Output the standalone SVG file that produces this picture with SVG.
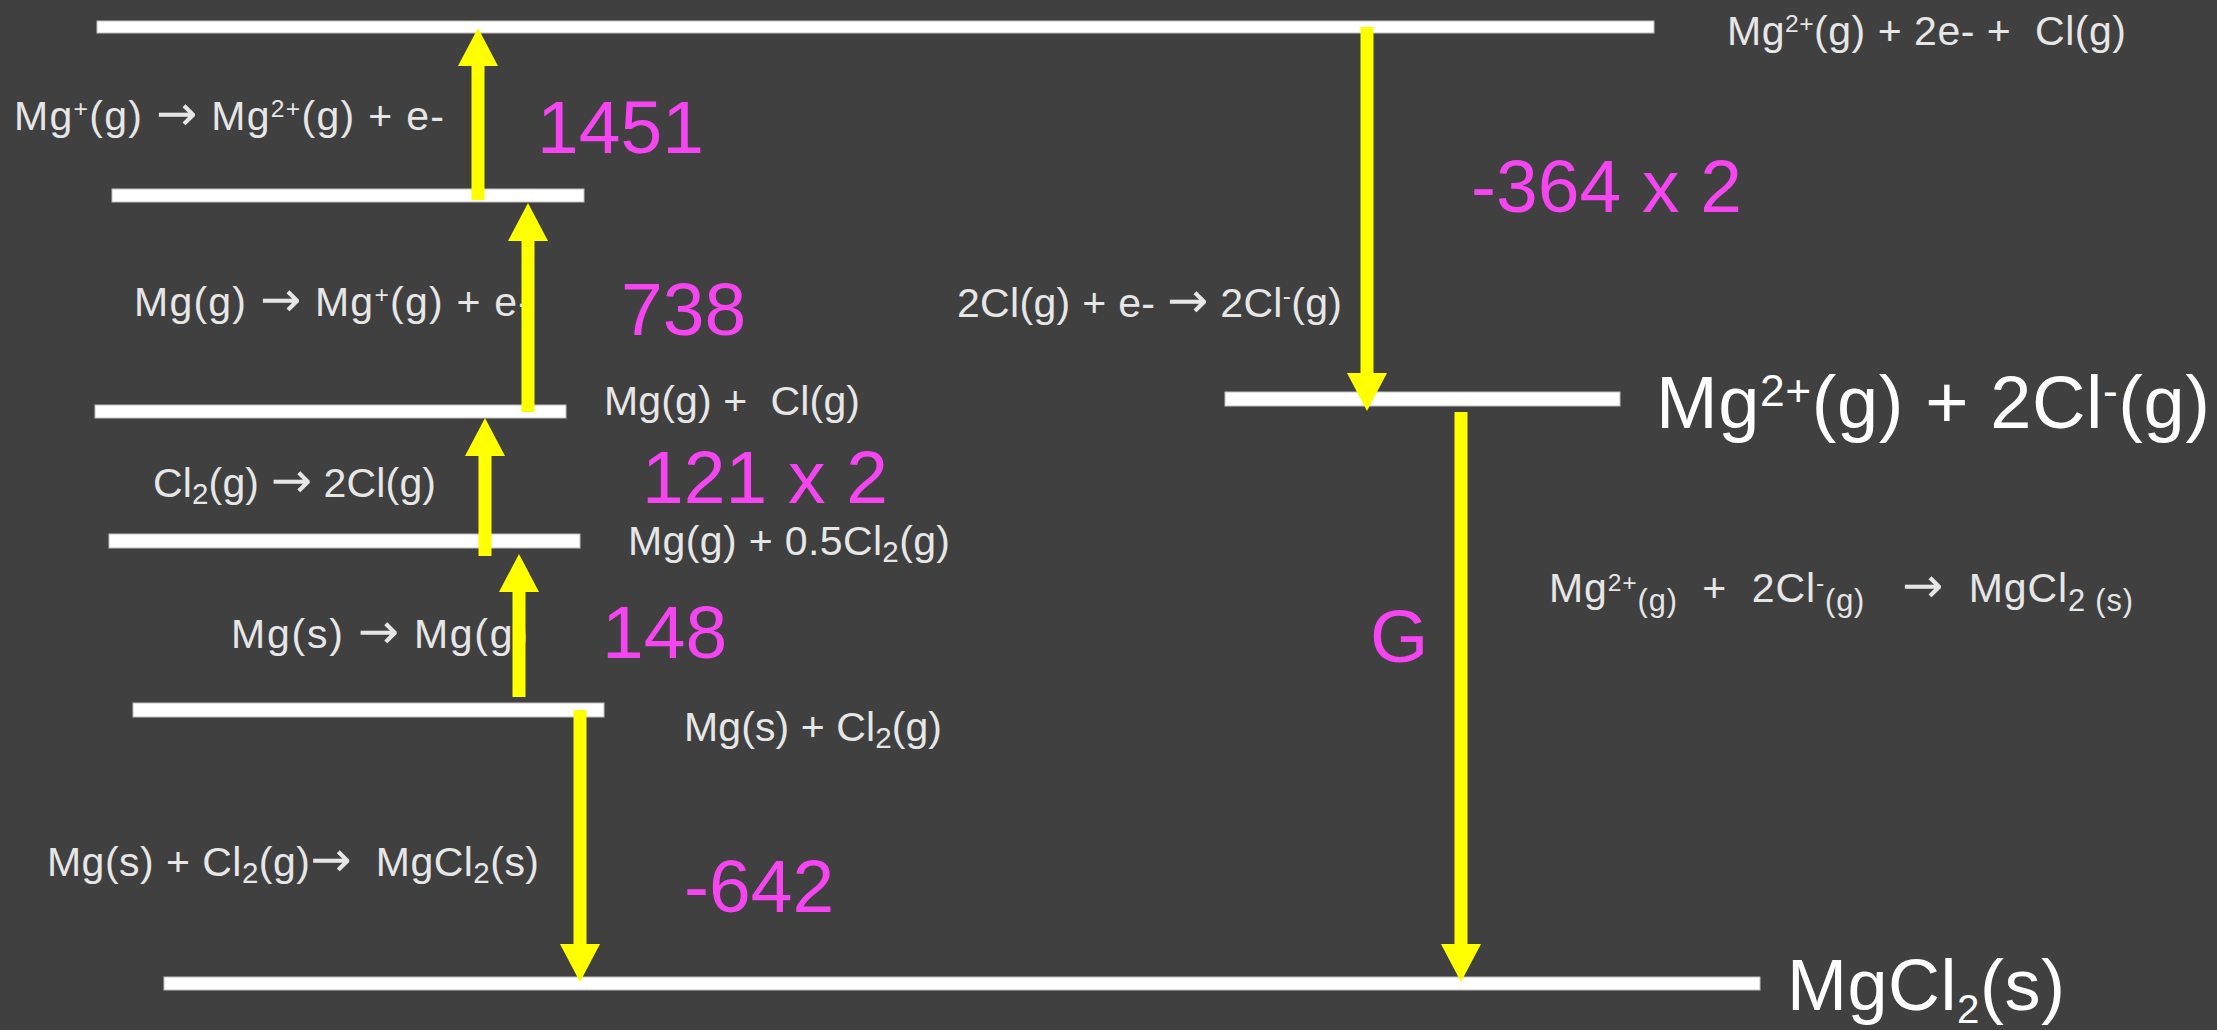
<svg xmlns="http://www.w3.org/2000/svg" width="2217" height="1030" viewBox="0 0 2217 1030">
<style>
text{font-family:"Liberation Sans",Arial,sans-serif;white-space:pre}
.lbl{font-size:41px;fill:#E6E6E6}
.big{font-size:74px;fill:#FFFFFF}
.num{font-size:75px;fill:#F545F0}
.sup{font-size:60%;baseline-shift:13px}
.sub{font-size:72%;baseline-shift:-7px}
.esub{font-size:75%;baseline-shift:-9px}
.esup{font-size:60%;baseline-shift:11px}
.bsup{font-size:60%;baseline-shift:22px}
.bsub{font-size:56%;baseline-shift:-13px}
.ar{font-family:"DejaVu Sans",sans-serif;font-size:120%}
.bar{fill:#FFFFFF;stroke:#BFBFBF;stroke-width:1}
.arr{stroke:#FFFF00;stroke-width:13;fill:none;marker-end:url(#head)}
</style>
<defs>
<marker id="head" markerUnits="userSpaceOnUse" markerWidth="38" markerHeight="40" viewBox="0 0 38 40" refX="1" refY="20" orient="auto">
<path d="M0,0 L38,20 L0,40 Z" fill="#FFFF00"/>
</marker>
</defs>
<rect x="0" y="0" width="2217" height="1030" fill="#404040"/>

<g id="level-mg2-2e-cl">
<rect class="bar" x="97" y="21" width="1557" height="12"/>
<text class="lbl" x="1727" y="45" textLength="399" lengthAdjust="spacing">Mg<tspan class="sup">2+</tspan>(g) + 2e- +  Cl(g)</text>
</g>
<g id="level-mg-plus">
<rect class="bar" x="112" y="189" width="472" height="13"/>
</g>
<g id="level-mg-cl">
<rect class="bar" x="95" y="405" width="471" height="13"/>
<text class="lbl" x="604" y="415" textLength="256" lengthAdjust="spacing">Mg(g) +  Cl(g)</text>
</g>
<g id="level-mg-half-cl2">
<rect class="bar" x="109" y="534" width="471" height="14"/>
<text class="lbl" x="628" y="555" textLength="322" lengthAdjust="spacing">Mg(g) + 0.5Cl<tspan class="sub">2</tspan>(g)</text>
</g>
<g id="level-mg-cl2">
<rect class="bar" x="133" y="703" width="471" height="14"/>
<text class="lbl" x="684" y="741" textLength="258" lengthAdjust="spacing">Mg(s) + Cl<tspan class="sub">2</tspan>(g)</text>
</g>
<g id="level-ions">
<rect class="bar" x="1225" y="392" width="395" height="14"/>
<text class="big" x="1656" y="428" textLength="554" lengthAdjust="spacing">Mg<tspan class="bsup">2+</tspan>(g) + 2Cl<tspan class="bsup">-</tspan>(g)</text>
</g>
<g id="level-mgcl2-s">
<rect class="bar" x="164" y="977" width="1596" height="13"/>
<text class="big" x="1787" y="1010" style="font-size:72px" textLength="278" lengthAdjust="spacing">MgCl<tspan class="bsub">2</tspan>(s)</text>
</g>

<g id="step-labels">
<text class="lbl" x="14" y="130" textLength="430" lengthAdjust="spacing">Mg<tspan class="sup">+</tspan>(g) <tspan class="ar">→</tspan> Mg<tspan class="sup">2+</tspan>(g) + e-</text>
<text class="num" x="537" y="153">1451</text>
<text class="lbl" x="134" y="316" textLength="398" lengthAdjust="spacing">Mg(g) <tspan class="ar">→</tspan> Mg<tspan class="sup">+</tspan>(g) + e-</text>
<text class="num" x="621" y="335">738</text>
<text class="lbl" x="153" y="497" textLength="283" lengthAdjust="spacing">Cl<tspan class="sub">2</tspan>(g) <tspan class="ar">→</tspan> 2Cl(g)</text>
<text class="num" x="642" y="503">121 x 2</text>
<text class="lbl" x="231" y="648" textLength="297" lengthAdjust="spacing">Mg(s) <tspan class="ar">→</tspan> Mg(g)</text>
<text class="num" x="602" y="658">148</text>
<text class="lbl" x="47" y="876" textLength="492" lengthAdjust="spacing">Mg(s) + Cl<tspan class="sub">2</tspan>(g)<tspan class="ar">→</tspan>  MgCl<tspan class="sub">2</tspan>(s)</text>
<text class="num" x="684" y="912">-642</text>
<text class="lbl" x="957" y="317" textLength="385" lengthAdjust="spacing">2Cl(g) + e- <tspan class="ar">→</tspan> 2Cl<tspan class="sup">-</tspan>(g)</text>
<text class="num" x="1471" y="212">-364 x 2</text>
<text class="num" x="1370" y="662">G</text>
<text class="lbl" x="1549" y="602" textLength="584" lengthAdjust="spacing">Mg<tspan class="esup">2+</tspan><tspan class="esub">(g)</tspan>  +  2Cl<tspan class="esup">-</tspan><tspan class="esub">(g)</tspan>   <tspan class="ar">→</tspan>  MgCl<tspan class="esub">2 (s)</tspan></text>
</g>

<g id="connectors">
<line class="arr" x1="478" y1="200" x2="478" y2="65"/>
<line class="arr" x1="528" y1="412" x2="528" y2="240"/>
<line class="arr" x1="485" y1="556" x2="485" y2="455"/>
<line class="arr" x1="519" y1="697" x2="519" y2="591"/>
<line class="arr" x1="580" y1="710" x2="580" y2="945"/>
<line class="arr" x1="1367" y1="27" x2="1367" y2="374"/>
<line class="arr" x1="1461" y1="412" x2="1461" y2="945"/>
</g>
</svg>
